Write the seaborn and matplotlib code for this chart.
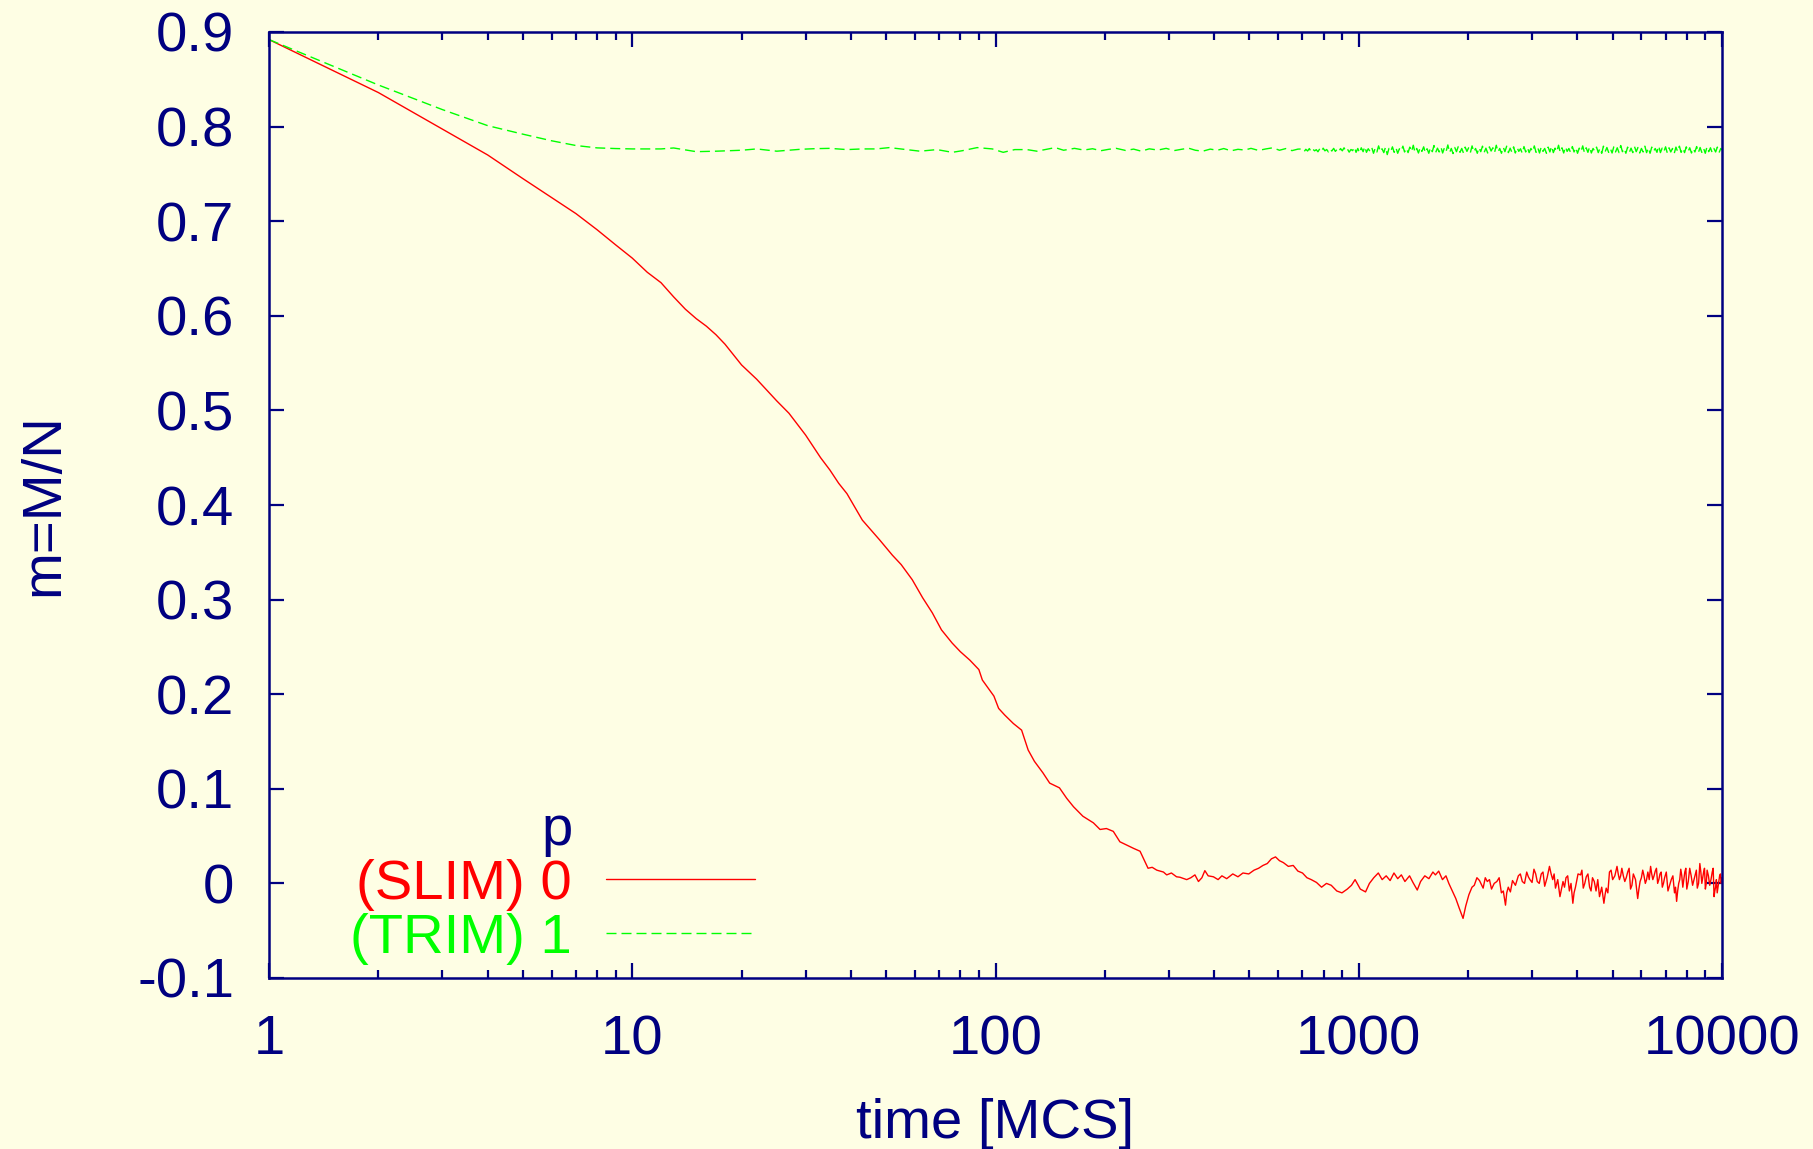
import matplotlib
matplotlib.use("Agg")
import matplotlib.pyplot as plt
from matplotlib.lines import Line2D
from matplotlib.ticker import LogLocator, NullFormatter
import seaborn as sns
import pandas as pd

# ---- data: magnetisation per spin vs. Monte Carlo time ----
red_time = [1, 2, 4, 5, 6, 7, 8, 9, 10, 11, 12, 13, 14, 15, 16, 17, 18,
            20, 22, 25, 27, 30, 33, 35, 37, 39, 43,
            48, 52, 55, 59, 63, 67, 71, 76, 80, 85,
            90, 92, 99, 102, 106, 112, 118, 123, 128, 135,
            141, 150, 157, 164, 174, 186, 194, 202, 211, 220,
            240, 250, 263, 270, 278, 290, 296, 305, 315, 322,
            336, 345, 354, 362, 370, 377, 385, 398, 410, 420]
red_m = [0.892, 0.836, 0.770, 0.745, 0.725, 0.708, 0.691, 0.675, 0.661,
         0.646, 0.635, 0.620, 0.607, 0.597, 0.589, 0.580, 0.570,
         0.548, 0.533, 0.510, 0.497, 0.474, 0.450, 0.437, 0.423, 0.412, 0.384,
         0.363, 0.347, 0.337, 0.321, 0.302, 0.286, 0.268, 0.254, 0.245, 0.236,
         0.226, 0.215, 0.198, 0.185, 0.178, 0.169, 0.162, 0.141, 0.129, 0.117,
         0.106, 0.101, 0.090, 0.081, 0.071, 0.064, 0.057, 0.058, 0.055, 0.044,
         0.037, 0.034, 0.016, 0.017, 0.014, 0.012, 0.009, 0.011, 0.007, 0.0065,
         0.004, 0.006, 0.009, 0.002, 0.006, 0.0135, 0.008, 0.007, 0.004, 0.008]

red_mid_time = [433, 450, 465, 480, 498, 515, 530, 545, 560, 575, 590, 605, 620,
                640, 660, 680, 700, 720, 740, 765, 790, 815, 840, 870, 899, 930,
                955, 977, 1010, 1044, 1070, 1100, 1132, 1160, 1190, 1220, 1250,
                1280, 1310, 1340, 1380, 1410, 1449, 1480, 1520, 1560, 1600, 1626,
                1660, 1700, 1738, 1770, 1810, 1850, 1890, 1937, 1970, 2010, 2050]
red_mid_m = [0.005, 0.010, 0.007, 0.011, 0.010, 0.014, 0.016, 0.019, 0.021, 0.026,
             0.028, 0.024, 0.022, 0.018, 0.019, 0.013, 0.011, 0.006, 0.004, 0.001,
             -0.004, 0.000, -0.002, -0.008, -0.010, -0.006, -0.002, 0.004, -0.006,
             -0.009, 0.000, 0.006, 0.011, 0.004, 0.008, 0.003, 0.011, 0.005, 0.009,
             0.002, 0.008, 0.001, -0.007, 0.002, 0.008, 0.005, 0.012, 0.009, 0.013,
             0.004, 0.008, 0.000, -0.008, -0.016, -0.026, -0.037, -0.024, -0.012,
             -0.004]

red_late_time = [2080, 2115, 2150, 2175, 2200, 2230, 2259, 2290, 2320, 2360,
                 2400, 2435, 2470, 2500, 2535, 2555, 2580, 2615, 2650, 2700,
                 2750, 2785, 2820, 2860, 2900, 2930, 2960, 3000, 3036, 3070,
                 3100, 3140, 3180, 3215, 3250, 3300, 3350, 3385, 3420, 3450,
                 3480, 3530, 3580, 3615, 3650, 3685, 3720, 3760, 3800, 3840,
                 3885, 3915, 3950, 4015, 4080, 4115, 4150, 4190, 4230, 4275,
                 4320, 4360, 4400, 4450, 4500, 4550, 4600, 4665, 4730, 4765,
                 4800, 4850, 4900, 4950, 5000, 5070, 5140, 5180, 5220, 5260,
                 5300, 5350, 5400, 5450, 5500, 5550, 5600, 5650, 5700, 5780,
                 5860, 5905, 5950, 6000, 6050, 6100, 6150, 6200, 6250, 6305,
                 6360, 6405, 6450, 6500, 6550, 6600, 6650, 6700, 6750, 6800,
                 6850, 6900, 6950, 7025, 7100, 7175, 7250, 7325, 7400, 7450,
                 7500, 7550, 7600, 7650, 7700, 7750, 7800, 7850, 7900, 7950,
                 8000, 8075, 8150, 8225, 8300, 8375, 8450, 8500, 8550, 8620,
                 8690, 8745, 8800, 8850, 8900, 8950, 9000, 9050, 9100, 9175,
                 9250, 9325, 9400, 9455, 9510, 9555, 9600, 9650, 9700, 9750,
                 9800, 9850, 9900, 9950, 10000]
red_late_m = [-0.002, 0.006, 0.003, -0.001, -0.005, 0.006, 0.002, 0.004, -0.006, 0.000,
              0.002, 0.006, -0.010, -0.008, -0.023, -0.010, -0.004, -0.009, 0.003, -0.002,
              0.008, 0.010, 0.002, 0.000, 0.012, 0.007, 0.004, 0.001, 0.015, 0.010,
              0.002, 0.000, 0.010, 0.012, -0.003, 0.006, 0.018, 0.010, 0.004, 0.010,
              -0.005, 0.004, -0.014, -0.006, 0.002, -0.004, 0.006, 0.008, -0.008, 0.000,
              -0.021, -0.010, -0.004, 0.010, 0.009, 0.014, -0.005, 0.000, 0.007, 0.010,
              -0.004, -0.008, 0.006, 0.002, -0.008, 0.004, -0.014, -0.004, -0.021, -0.012,
              -0.005, -0.010, 0.012, 0.014, 0.004, 0.008, 0.018, 0.010, 0.004, 0.008,
              0.016, 0.008, 0.002, 0.006, 0.012, 0.016, -0.006, -0.002, 0.010, 0.004,
              -0.016, -0.006, 0.002, 0.006, 0.014, 0.008, 0.000, 0.004, 0.012, 0.004,
              0.018, 0.010, 0.004, 0.008, 0.013, 0.016, 0.000, 0.004, 0.010, 0.012,
              -0.004, 0.000, 0.006, 0.012, -0.008, -0.002, 0.004, 0.008, -0.010, -0.004,
              -0.019, -0.008, 0.000, 0.004, 0.015, 0.008, -0.004, 0.004, 0.012, 0.016,
              -0.006, 0.002, 0.016, 0.008, -0.002, 0.004, 0.010, 0.014, -0.005, 0.000,
              0.021, 0.012, 0.000, 0.006, 0.012, 0.016, -0.006, 0.000, 0.014, 0.008,
              -0.002, 0.004, 0.012, 0.016, -0.014, -0.008, -0.004, 0.004, -0.010, -0.004,
              0.002, 0.008, 0.010, 0.000, 0.006]

green_time = [1, 2, 3, 4, 5, 6, 7, 8, 9, 10, 12, 13, 15, 17, 20, 22, 25, 29, 32, 35,
              39, 43, 47, 51, 57, 62, 69, 76, 81, 89, 98, 105, 113, 122, 130, 146,
              154, 165,
              175, 185, 195, 205, 215, 228, 240, 252, 265, 280, 295, 310, 325, 340,
              355, 372, 390, 408, 425, 445, 465, 485, 505, 530, 555, 580, 605, 630,
              655, 680]
green_m = [0.892, 0.844, 0.818, 0.801, 0.792, 0.785, 0.780, 0.7775, 0.7768, 0.7764,
           0.7764, 0.7774, 0.7735, 0.774, 0.775, 0.7764, 0.774, 0.776, 0.7767, 0.777,
           0.7757, 0.7764, 0.7764, 0.7778, 0.7757, 0.774, 0.7757, 0.7728, 0.7745,
           0.7778, 0.7764, 0.7728, 0.7757, 0.7757, 0.774, 0.7778, 0.775, 0.777,
           0.7752, 0.7766, 0.7745, 0.7760, 0.7770, 0.7748, 0.7762, 0.7740, 0.7765,
           0.7752, 0.7770, 0.7746, 0.7760, 0.7772, 0.7750, 0.7740, 0.7762, 0.7750,
           0.7768, 0.7744, 0.7760, 0.7752, 0.7770, 0.7748, 0.7764, 0.7776, 0.7750,
           0.7768, 0.7746, 0.7762]

green_late_time = [700, 708, 715, 723, 731, 739, 747, 756, 764, 772,
                   781, 790, 798, 807, 816, 825, 834, 843, 853, 862,
                   872, 881, 891, 901, 911, 921, 931, 941, 952, 962,
                   973, 983, 994, 1005, 1016, 1028, 1039, 1050, 1062, 1074,
                   1086, 1098, 1110, 1122, 1134, 1147, 1159, 1172, 1185, 1198,
                   1211, 1225, 1238, 1252, 1266, 1280, 1294, 1308, 1323, 1337,
                   1352, 1367, 1382, 1397, 1413, 1428, 1444, 1460, 1476, 1492,
                   1509, 1525, 1542, 1559, 1576, 1594, 1611, 1629, 1647, 1665,
                   1684, 1702, 1721, 1740, 1759, 1779, 1798, 1818, 1838, 1858,
                   1879, 1900, 1921, 1942, 1963, 1985, 2007, 2029, 2051, 2074,
                   2097, 2120, 2143, 2167, 2191, 2215, 2239, 2264, 2289, 2314,
                   2340, 2365, 2391, 2418, 2444, 2471, 2499, 2526, 2554, 2582,
                   2611, 2640, 2669, 2698, 2728, 2758, 2788, 2819, 2850, 2881,
                   2913, 2945, 2978, 3010, 3043, 3077, 3111, 3145, 3180, 3215,
                   3250, 3286, 3322, 3359, 3396, 3433, 3471, 3509, 3548, 3587,
                   3626, 3666, 3707, 3747, 3789, 3830, 3873, 3915, 3958, 4002,
                   4046, 4091, 4136, 4181, 4227, 4274, 4321, 4368, 4416, 4465,
                   4514, 4564, 4614, 4665, 4716, 4768, 4821, 4874, 4927, 4982,
                   5036, 5092, 5148, 5205, 5262, 5320, 5378, 5437, 5497, 5558,
                   5619, 5681, 5743, 5806, 5870, 5935, 6000, 6066, 6133, 6200,
                   6269, 6338, 6407, 6478, 6549, 6621, 6694, 6768, 6842, 6917,
                   6993, 7070, 7148, 7227, 7306, 7386, 7468, 7550, 7633, 7717,
                   7802, 7887, 7974, 8062, 8151, 8240, 8331, 8423, 8515, 8609,
                   8704, 8799, 8896, 8994, 9093, 9193, 9294, 9396, 9499, 9604,
                   9709, 9816, 9924, 10000]
green_late_m = [0.7764, 0.7738, 0.7760, 0.7742, 0.7768, 0.7736, 0.7762, 0.7744, 0.7756, 0.7734,
                0.7766, 0.7740, 0.7772, 0.7744, 0.7758, 0.7732, 0.7764, 0.7742, 0.7770, 0.7738,
                0.7760, 0.7736, 0.7768, 0.7744, 0.7776, 0.7740, 0.7762, 0.7730, 0.7758, 0.7746,
                0.7783, 0.7728, 0.7769, 0.7721, 0.7776, 0.7735, 0.7789, 0.7728, 0.7766, 0.7738,
                0.7779, 0.7718, 0.7772, 0.7732, 0.7796, 0.7735, 0.7766, 0.7725, 0.7783, 0.7704,
                0.7769, 0.7738, 0.7786, 0.7728, 0.7776, 0.7718, 0.7766, 0.7742, 0.7793, 0.7732,
                0.7772, 0.7725, 0.7783, 0.7735, 0.7803, 0.7728, 0.7769, 0.7721, 0.7779, 0.7738,
                0.7786, 0.7725, 0.7766, 0.7718, 0.7779, 0.7735, 0.7800, 0.7728, 0.7772, 0.7732,
                0.7783, 0.7721, 0.7776, 0.7738, 0.7806, 0.7725, 0.7769, 0.7715, 0.7779, 0.7735,
                0.7789, 0.7728, 0.7769, 0.7721, 0.7783, 0.7738, 0.7776, 0.7725, 0.7796, 0.7732,
                0.7769, 0.7718, 0.7779, 0.7735, 0.7793, 0.7728, 0.7772, 0.7721, 0.7786, 0.7742,
                0.7776, 0.7725, 0.7803, 0.7732, 0.7769, 0.7718, 0.7783, 0.7735, 0.7793, 0.7725,
                0.7772, 0.7728, 0.7786, 0.7721, 0.7779, 0.7738, 0.7766, 0.7718, 0.7789, 0.7732,
                0.7779, 0.7725, 0.7769, 0.7735, 0.7796, 0.7728, 0.7776, 0.7721, 0.7786, 0.7738,
                0.7769, 0.7718, 0.7783, 0.7732, 0.7793, 0.7725, 0.7772, 0.7735, 0.7803, 0.7728,
                0.7776, 0.7721, 0.7786, 0.7738, 0.7769, 0.7725, 0.7789, 0.7732, 0.7779, 0.7718,
                0.7772, 0.7735, 0.7796, 0.7725, 0.7776, 0.7728, 0.7786, 0.7721, 0.7769, 0.7738,
                0.7783, 0.7725, 0.7772, 0.7718, 0.7793, 0.7735, 0.7779, 0.7728, 0.7769, 0.7721,
                0.7786, 0.7732, 0.7776, 0.7725, 0.7800, 0.7735, 0.7769, 0.7718, 0.7783, 0.7728,
                0.7772, 0.7725, 0.7789, 0.7735, 0.7779, 0.7721, 0.7769, 0.7732, 0.7793, 0.7725,
                0.7776, 0.7718, 0.7783, 0.7738, 0.7769, 0.7728, 0.7796, 0.7725, 0.7772, 0.7735,
                0.7786, 0.7721, 0.7776, 0.7732, 0.7769, 0.7715, 0.7783, 0.7735, 0.7793, 0.7728,
                0.7772, 0.7725, 0.7786, 0.7735, 0.7776, 0.7721, 0.7769, 0.7732, 0.7789, 0.7725,
                0.7779, 0.7728, 0.7772, 0.7718, 0.7786, 0.7735, 0.7776, 0.7725, 0.7769, 0.7732,
                0.7783, 0.7725, 0.7769, 0.7752]

series_labels = ["(SLIM) 0", "(TRIM) 1"]
legend_title = "p"
x_ticks = [1, 10, 100, 1000, 10000]
x_tick_labels = ["1", "10", "100", "1000", "10000"]
y_ticks = [-0.1, 0.0, 0.1, 0.2, 0.3, 0.4, 0.5, 0.6, 0.7, 0.8, 0.9]
y_tick_labels = ["-0.1", "0", "0.1", "0.2", "0.3", "0.4", "0.5", "0.6", "0.7", "0.8", "0.9"]

# ---- styling ----
NAVY = "#000080"
BG = "#FEFEE4"
RED = "#FF0000"
GREEN = "#00FF00"
DASH = (0, (7.2, 3.6))
FS = 40.5

sns.set_theme(style="ticks")
plt.rcParams["font.family"] = ["Liberation Sans", "DejaVu Sans"]

red_df = pd.DataFrame({"t": red_time + red_mid_time + red_late_time,
                       "m": red_m + red_mid_m + red_late_m})
green_df = pd.DataFrame({"t": green_time + green_late_time,
                         "m": green_m + green_late_m})

fig = plt.figure(figsize=(18.13, 11.49), dpi=100, facecolor=BG)
ax = fig.add_axes([269 / 1813, 1 - 978 / 1149, 1453 / 1813, 946 / 1149])
ax.set_facecolor(BG)

sns.lineplot(data=red_df, x="t", y="m", ax=ax, color=RED, lw=1.0,
             sort=False, estimator=None, legend=False)
sns.lineplot(data=green_df, x="t", y="m", ax=ax, color=GREEN, lw=1.0,
             linestyle=DASH, sort=False, estimator=None, legend=False)

ax.set_xscale("log")
ax.set_xlim(1, 10000)
ax.set_ylim(-0.1, 0.9)
ax.set_xticks(x_ticks, x_tick_labels)
ax.set_yticks(y_ticks, y_tick_labels)
ax.xaxis.set_minor_locator(LogLocator(base=10, subs=range(2, 10), numticks=100))
ax.xaxis.set_minor_formatter(NullFormatter())
ax.yaxis.set_minor_locator(plt.NullLocator())

for s in ax.spines.values():
    s.set_visible(True)
    s.set_color(NAVY)
    s.set_linewidth(1.8)

ax.tick_params(which="both", direction="in", top=True, right=True,
               color=NAVY, labelcolor=NAVY, width=1.6)
ax.tick_params(which="major", length=10.8, labelsize=FS)
ax.tick_params(which="minor", length=5.8)
ax.tick_params(axis="x", which="major", pad=26)
ax.tick_params(axis="y", which="major", pad=25)

ax.set_xlabel("time [MCS]", fontsize=FS, color=NAVY)
ax.set_ylabel("m=M/N", fontsize=FS, color=NAVY)
ax.xaxis.set_label_coords(0.5, -0.127)
ax.yaxis.set_label_coords(-0.137, 0.5)

handles = [
    Line2D([], [], color="none", lw=1.0),
    Line2D([], [], color=RED, lw=1.0),
    Line2D([], [], color=GREEN, lw=1.0, linestyle=DASH),
]
ax.legend(handles, [legend_title] + series_labels, loc="lower right",
          bbox_to_anchor=(0.3345, 0.0137), frameon=False, markerfirst=False,
          fontsize=FS, handlelength=2.65, handletextpad=0.60, labelspacing=0.034,
          borderpad=0, borderaxespad=0,
          labelcolor=[NAVY, RED, GREEN])

fig.savefig("out.png", dpi=100, facecolor=BG)
